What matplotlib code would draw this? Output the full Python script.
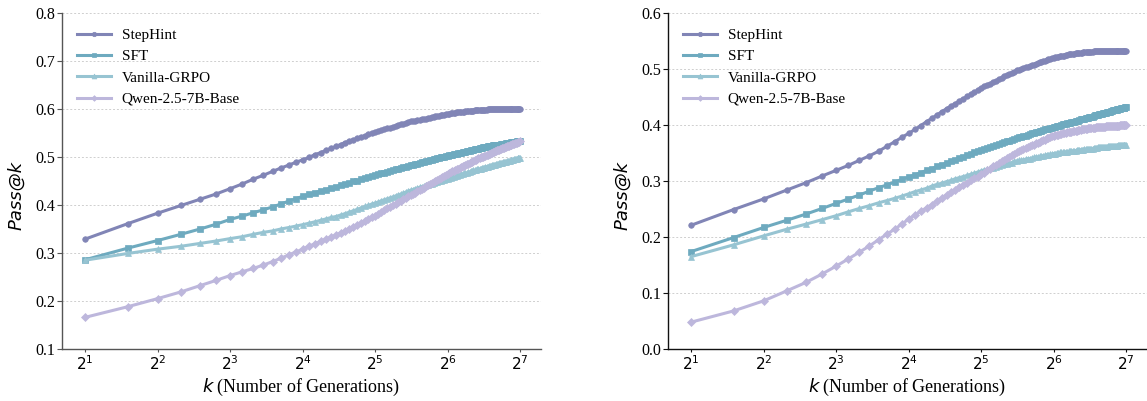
import matplotlib
matplotlib.use('Agg')
import matplotlib.pyplot as plt
from matplotlib.ticker import FixedLocator, NullLocator, FixedFormatter

plt.rcParams['font.family'] = ['Liberation Serif', 'DejaVu Sans']
plt.rcParams['mathtext.fontset'] = 'dejavusans'

# ---------------- data ----------------
k_values = list(range(2, 129))
series_names = ['StepHint', 'SFT', 'Vanilla-GRPO', 'Qwen-2.5-7B-Base']
xtick_values = [2, 4, 8, 16, 32, 64, 128]
xtick_labels = ['$2^{1}$', '$2^{2}$', '$2^{3}$', '$2^{4}$', '$2^{5}$', '$2^{6}$', '$2^{7}$']

left_stephint = [
    .329, .361, .383, .399, .412, .423, .434,
    .444, .454, .462, .470, .477, .483, .489, .494,
    .499, .505, .509, .514, .518, .522, .526, .530, .533, .536, .539, .542, .544, .547, .550, .552,
    .554, .556, .558, .560, .561, .563, .565, .566, .568, .569, .571, .572, .574, .575, .576, .577,
    .578, .579, .580, .580, .581, .582, .583, .584, .585, .585, .586, .587, .588, .588, .589, .590,
    .590, .591, .591, .592, .592, .593, .593, .593, .594, .594, .594, .595, .595, .595, .596, .596,
    .596, .596, .597, .597, .597, .597, .597, .598, .598, .598, .598, .598, .598, .599, .599, .599,
    .599, .599, .599, .599, .599, .599, .599, .600, .600, .600, .600, .600, .600, .600, .600, .600,
    .600, .600, .600, .600, .600, .600, .600, .600, .600, .600, .600, .600, .600, .600, .600, .600]
left_sft = [
    .286, .310, .326, .339, .350, .360, .370,
    .377, .384, .390, .396, .402, .408, .413, .418,
    .422, .426, .429, .432, .435, .438, .441, .444, .446, .449, .451, .454, .456, .458, .460, .462,
    .464, .466, .467, .469, .471, .472, .474, .476, .477, .479, .480, .481, .483,
    .484, .485, .486, .488, .489, .490, .491, .492, .493, .494, .495, .496, .497, .498, .499, .500, .501, .502, .503,
    .504, .504, .505, .506, .507, .507, .508, .509, .509, .510, .511, .511, .512, .513, .513, .514,
    .515, .515, .516, .516, .517, .517, .518, .519, .519, .520,
    .520, .521, .521, .522, .522, .522, .523, .523, .524, .524, .524, .525, .525, .526, .526, .526,
    .527, .527, .528, .528, .528, .529, .529, .529, .530, .530, .530, .531, .531, .531, .532, .532,
    .532, .533, .533, .533, .534, .534]
left_vanilla = [
    .285, .299, .308, .314, .320, .325, .330,
    .334, .339, .343, .346, .350, .353, .356, .359,
    .362, .365, .368, .371, .374, .376, .379, .382, .385, .388, .391, .394, .397, .399, .402, .404,
    .406, .409, .411, .413, .415, .417, .419, .421, .423, .425, .427, .429, .431,
    .432, .434, .435, .437, .438, .439, .441, .442, .443, .444, .446, .447, .448, .449, .451, .452, .453, .454, .455,
    .456, .457, .458, .459, .460, .461, .462, .463, .464, .465, .466, .466, .467, .468, .469, .470,
    .471, .472, .472, .473, .474, .475, .475, .476, .477, .478,
    .478, .479, .480, .480, .481, .481, .482, .483, .483, .484, .484, .485, .485, .486, .487, .487,
    .488, .488, .489, .489, .490, .490, .491, .491, .492, .492, .493, .493, .494, .494, .495, .495,
    .496, .496, .497, .497, .498, .498]
left_qwen = [
    .166, .188, .205, .219, .232, .243, .253,
    .261, .268, .275, .282, .289, .296, .302, .308,
    .314, .319, .324, .329, .333, .337, .342, .346, .351, .355, .359, .363, .367, .371, .374, .378,
    .382, .386, .389, .393, .396, .399, .403, .406, .409, .412, .415, .418, .420,
    .423, .426, .429, .431, .434, .436, .439, .441, .443, .446, .448, .450, .453, .455, .457, .459, .461, .463, .465,
    .467, .468, .470, .471, .473, .474, .476, .478, .479, .481, .482, .483, .485, .486, .488, .489,
    .490, .492, .493, .494, .495, .497, .498, .499, .500, .501,
    .502, .503, .504, .505, .506, .507, .508, .509, .510, .511, .512, .513, .514, .514, .515, .516,
    .517, .518, .519, .519, .520, .521, .522, .523, .523, .524, .525, .526, .527, .527, .528, .529,
    .530, .530, .531, .532, .532, .533]

right_stephint = [
    .221, .249, .268, .284, .297, .309, .319,
    .328, .337, .345, .353, .362, .370, .378, .385,
    .392, .399, .406, .412, .418, .424, .429, .434, .438, .443, .447, .451, .455, .459, .462, .466,
    .469, .472, .474, .477, .479, .482, .484, .487, .489, .491, .493, .495, .498,
    .499, .500, .502, .503, .504, .506, .507, .508, .509, .510, .512, .513, .514, .515, .516, .517, .518, .519, .520,
    .521, .521, .522, .523, .523, .524, .524, .525, .525, .526, .526, .527, .527, .527, .528, .528,
    .528, .529, .529, .529, .530, .530, .530, .530, .531, .531,
    .531, .531, .531, .532, .532, .532, .532, .532, .532, .532, .533, .533, .533, .533, .533, .533,
    .533, .533, .533, .533, .533, .533, .533, .533, .533, .533, .533, .533, .533, .533, .533, .533,
    .533, .533, .533, .533, .533, .533]
right_sft = [
    .174, .199, .217, .230, .241, .251, .260,
    .268, .275, .282, .288, .293, .298, .303, .307,
    .311, .315, .319, .322, .326, .329, .332, .335, .338, .341, .343, .346, .348, .351, .353, .355,
    .357, .359, .361, .363, .364, .366, .368, .369, .371, .372, .374, .375, .377,
    .378, .379, .380, .381, .383, .384, .385, .386, .387, .388, .389, .390, .391, .392, .393, .393, .394, .395, .396,
    .397, .398, .398, .399, .400, .401, .401, .402, .403, .404, .404, .405, .406, .406, .407, .408,
    .408, .409, .410, .410, .411, .411, .412, .413, .413, .414,
    .414, .415, .415, .416, .417, .417, .418, .418, .419, .419, .420, .420, .421, .421, .422, .422,
    .423, .423, .424, .424, .425, .425, .426, .426, .427, .427, .427, .428, .428, .429, .429, .430,
    .430, .430, .431, .431, .432, .432]
right_vanilla = [
    .165, .186, .202, .214, .223, .231, .238,
    .245, .251, .256, .261, .265, .269, .273, .277,
    .281, .284, .287, .291, .294, .296, .299, .301, .304, .306, .308, .310, .312, .314, .316, .318,
    .320, .321, .323, .324, .325, .327, .328, .330, .331, .332, .333, .335, .336,
    .337, .337, .338, .339, .340, .340, .341, .342, .343, .343, .344, .345, .345, .346, .347, .347, .348, .348, .349,
    .349, .350, .350, .351, .351, .351, .352, .352, .352, .353, .353, .353, .354, .354, .354, .355,
    .355, .355, .356, .356, .356, .357, .357, .357, .358, .358,
    .358, .358, .358, .359, .359, .359, .359, .360, .360, .360, .360, .360, .361, .361, .361, .361,
    .361, .362, .362, .362, .362, .362, .362, .363, .363, .363, .363, .363, .364, .364, .364, .364,
    .364, .364, .365, .365, .365, .365]
right_qwen = [
    .048, .068, .086, .104, .119, .134, .148,
    .161, .173, .184, .195, .205, .214, .223, .232,
    .239, .246, .252, .258, .264, .270, .275, .280, .284, .289, .293, .297, .301, .305, .308, .312,
    .315, .319, .322, .326, .329, .332, .335, .338, .341, .343, .346, .349, .351,
    .353, .355, .357, .359, .360, .362, .364, .365, .367, .368, .370, .371, .373, .374, .376, .377, .378, .380, .381,
    .382, .382, .383, .384, .384, .385, .386, .386, .387, .387, .388, .388, .389, .389, .390, .390,
    .391, .391, .391, .392, .392, .393, .393, .393, .394, .394,
    .394, .394, .395, .395, .395, .396, .396, .396, .396, .396, .397, .397, .397, .397, .397, .398,
    .398, .398, .398, .398, .398, .399, .399, .399, .399, .399, .399, .399, .399, .399, .400, .400,
    .400, .400, .400, .400, .400, .400]

left_series = [left_stephint, left_sft, left_vanilla, left_qwen]
right_series = [right_stephint, right_sft, right_vanilla, right_qwen]
for s in left_series + right_series:
    assert len(s) == len(k_values), len(s)

# ---------------- style ----------------
colors = ['#8185b6', '#6eaabf', '#97c4d2', '#bdb7dc']
markers = ['o', 's', '^', 'D']
msizes = [4.0, 3.8, 4.4, 3.6]

fig = plt.figure(figsize=(11.47, 4.01), dpi=100)
axL = fig.add_axes([62/1147, 52/401, 479/1147, 336/401])
axR = fig.add_axes([668/1147, 52/401, 479/1147, 336/401])


def draw(ax, series, ylim, yticks, spine_color):
    for name, vals, c, m, ms in zip(series_names, series, colors, markers, msizes):
        ax.plot(k_values, vals, color=c, marker=m, markersize=ms, linewidth=2.2,
                markeredgewidth=0.5, label=name)
    ax.set_xscale('log', base=2)
    ax.set_xlim(2 ** 0.68, 2 ** 7.29)
    ax.set_ylim(*ylim)
    ax.xaxis.set_major_locator(FixedLocator(xtick_values))
    ax.xaxis.set_major_formatter(FixedFormatter(xtick_labels))
    ax.xaxis.set_minor_locator(NullLocator())
    ax.set_yticks(yticks)
    ax.set_yticklabels([f'{t:.1f}' for t in yticks], fontsize=11.5)
    for lab in ax.get_xticklabels():
        lab.set_fontsize(11)
    ax.yaxis.grid(True, linestyle=(0, (2, 2)), color='#cfcfcf', linewidth=0.7)
    ax.set_axisbelow(True)
    for sp in ['top', 'right']:
        ax.spines[sp].set_visible(False)
    for sp in ['left', 'bottom']:
        ax.spines[sp].set_color(spine_color)
        ax.spines[sp].set_linewidth(1.0)
    ax.tick_params(axis='y', direction='out', length=3.5, width=0.8, pad=1.5,
                   colors=spine_color, labelcolor='black')
    ax.tick_params(axis='x', direction='out', length=2.5, width=0.8, pad=1,
                   colors=spine_color, labelcolor='black')
    ax.set_ylabel('Pass@k', family='DejaVu Sans', fontstyle='italic', fontsize=13)
    ax.yaxis.set_label_coords(-0.077, 0.458)
    ax.set_xlabel('$k$ (Number of Generations)', fontsize=13)
    ax.xaxis.set_label_coords(0.5, -0.083)
    ax.legend(loc='upper left', frameon=False, fontsize=11, handlelength=2.2,
              handletextpad=0.7, labelspacing=0.5, borderaxespad=0.6,
              markerscale=0.8, bbox_to_anchor=(0.0, 1.0))


draw(axL, left_series, (0.1, 0.8), [0.1, 0.2, 0.3, 0.4, 0.5, 0.6, 0.7, 0.8], '#555555')
draw(axR, right_series, (0.0, 0.6), [0.0, 0.1, 0.2, 0.3, 0.4, 0.5, 0.6], '#111111')

fig.savefig('out.png', dpi=100)
